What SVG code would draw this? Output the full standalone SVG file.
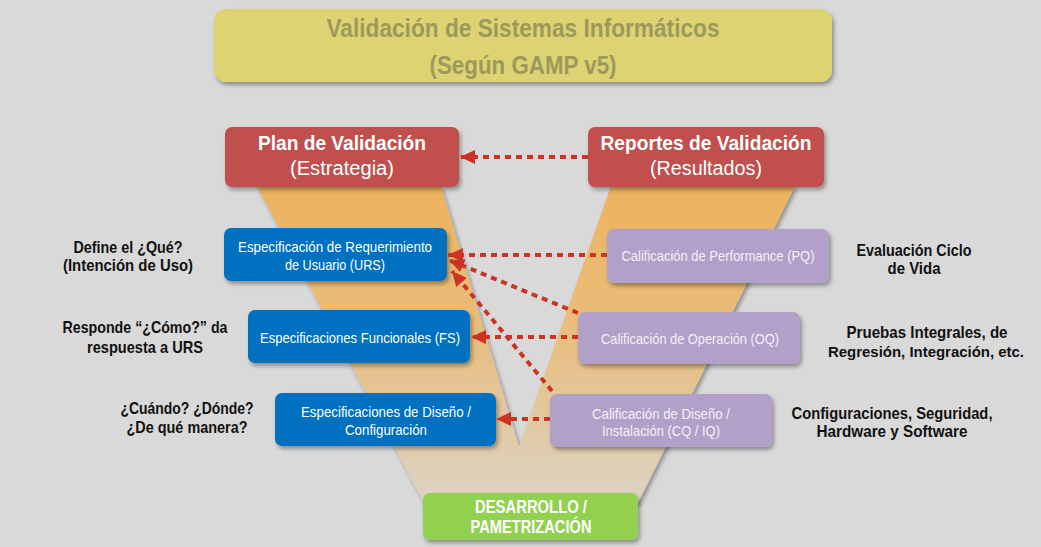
<svg xmlns="http://www.w3.org/2000/svg" width="1041" height="547" viewBox="0 0 1041 547">
  <defs>
    <linearGradient id="vgrad" gradientUnits="userSpaceOnUse" x1="0" y1="186" x2="0" y2="503">
      <stop offset="0" stop-color="#EDB35E"/>
      <stop offset="0.45" stop-color="#E9BD7C"/>
      <stop offset="1" stop-color="#DCD3C4"/>
    </linearGradient>
    <filter id="shadow" x="-10%" y="-10%" width="125%" height="140%">
      <feDropShadow dx="2" dy="3" stdDeviation="2" flood-color="#000" flood-opacity="0.35"/>
    </filter>
    <marker id="arrow" markerUnits="userSpaceOnUse" markerWidth="16" markerHeight="16" refX="15" refY="8" orient="auto">
      <path d="M0,1 L15,8 L0,15 z" fill="#CC3322"/>
    </marker>
  </defs>
  <style>
    .title { font-family: "Liberation Sans", Arial, sans-serif; font-weight: bold; font-size: 25px; fill: #9C9A5A; }
    .redt { font-family: "Liberation Sans", Arial, sans-serif; font-weight: bold; font-size: 20px; fill: #FFFFFF; }
    .redsub { font-family: "Liberation Sans", Arial, sans-serif; font-size: 20px; fill: #FFFFFF; }
    .bt { font-family: "Liberation Sans", Arial, sans-serif; font-size: 15px; fill: #FFFFFF; }
    .pt { font-family: "Liberation Sans", Arial, sans-serif; font-size: 15px; fill: #F4F0F8; }
    .side { font-family: "Liberation Sans", Arial, sans-serif; font-weight: bold; font-size: 16.5px; fill: #111111; }
    .small { font-size: 15px; }
    .gt { font-family: "Liberation Sans", Arial, sans-serif; font-weight: bold; font-size: 17.5px; fill: #FFFFFF; }
    .conn { fill: none; stroke: #CC3322; stroke-width: 4; stroke-dasharray: 6 5; }
  </style>

  <rect x="0" y="0" width="1041" height="547" fill="#D9D9D9"/>

  <!-- V shape -->
  <path id="vshape" d="M257,186 L441,186 L519,447 L611,186 L795,186 L638,503 L424,503 Z" fill="url(#vgrad)" filter="url(#shadow)"/>

  <g id="title">
    <rect x="214" y="9" width="618" height="73" rx="12" fill="#DED373" filter="url(#shadow)"/>
    <text class="title" x="523" y="37" text-anchor="middle" textLength="393" lengthAdjust="spacingAndGlyphs">Validación de Sistemas Informáticos</text>
    <text class="title" x="523" y="74" text-anchor="middle" textLength="187" lengthAdjust="spacingAndGlyphs">(Según GAMP v5)</text>
  </g>

  <g id="plan">
    <rect x="225" y="127" width="234" height="60" rx="7" fill="#C0504D" filter="url(#shadow)"/>
    <text class="redt" x="342" y="150" text-anchor="middle" textLength="168" lengthAdjust="spacingAndGlyphs">Plan de Validación</text>
    <text class="redsub" x="342" y="175" text-anchor="middle" textLength="104" lengthAdjust="spacingAndGlyphs">(Estrategia)</text>
  </g>

  <g id="reportes">
    <rect x="588" y="127" width="236" height="60" rx="7" fill="#C0504D" filter="url(#shadow)"/>
    <text class="redt" x="706" y="150" text-anchor="middle" textLength="211" lengthAdjust="spacingAndGlyphs">Reportes de Validación</text>
    <text class="redsub" x="706" y="175" text-anchor="middle" textLength="112" lengthAdjust="spacingAndGlyphs">(Resultados)</text>
  </g>

  <g id="urs">
    <rect x="224" y="228" width="223" height="53" rx="7" fill="#0070C0" filter="url(#shadow)"/>
    <text class="bt" x="335" y="251.5" text-anchor="middle" textLength="194" lengthAdjust="spacingAndGlyphs">Especificación de Requerimiento</text>
    <text class="bt" x="335" y="269.5" text-anchor="middle" textLength="100" lengthAdjust="spacingAndGlyphs">de Usuario (URS)</text>
  </g>

  <g id="fs">
    <rect x="248" y="310" width="222" height="53" rx="7" fill="#0070C0" filter="url(#shadow)"/>
    <text class="bt" x="360" y="342.5" text-anchor="middle" textLength="200" lengthAdjust="spacingAndGlyphs">Especificaciones Funcionales (FS)</text>
  </g>

  <g id="ds">
    <rect x="275" y="393" width="221" height="53" rx="7" fill="#0070C0" filter="url(#shadow)"/>
    <text class="bt" x="386" y="416.5" text-anchor="middle" textLength="170" lengthAdjust="spacingAndGlyphs">Especificaciones de Diseño /</text>
    <text class="bt" x="386" y="434.5" text-anchor="middle" textLength="82" lengthAdjust="spacingAndGlyphs">Configuración</text>
  </g>

  <g id="pq">
    <rect x="607" y="229" width="222" height="54" rx="7" fill="#B1A0C7" filter="url(#shadow)"/>
    <text class="pt" x="718" y="260.5" text-anchor="middle" textLength="193" lengthAdjust="spacingAndGlyphs">Calificación de Performance (PQ)</text>
  </g>

  <g id="oq">
    <rect x="578" y="312" width="222" height="52" rx="7" fill="#B1A0C7" filter="url(#shadow)"/>
    <text class="pt" x="690" y="343.5" text-anchor="middle" textLength="178" lengthAdjust="spacingAndGlyphs">Calificación de Operación (OQ)</text>
  </g>

  <g id="cq">
    <rect x="550" y="394" width="222" height="53" rx="7" fill="#B1A0C7" filter="url(#shadow)"/>
    <text class="pt" x="661" y="418.5" text-anchor="middle" textLength="138" lengthAdjust="spacingAndGlyphs">Calificación de Diseño /</text>
    <text class="pt" x="661" y="435.5" text-anchor="middle" textLength="118" lengthAdjust="spacingAndGlyphs">Instalación (CQ / IQ)</text>
  </g>

  <g id="desarrollo">
    <rect x="423" y="493" width="215" height="47" rx="7" fill="#92D050" filter="url(#shadow)"/>
    <text class="gt" x="531" y="513" text-anchor="middle" textLength="112" lengthAdjust="spacingAndGlyphs">DESARROLLO /</text>
    <text class="gt" x="531" y="533" text-anchor="middle" textLength="121" lengthAdjust="spacingAndGlyphs">PAMETRIZACIÓN</text>
  </g>

  <g id="side-left">
    <text class="side" x="128" y="253" text-anchor="middle" textLength="109" lengthAdjust="spacingAndGlyphs">Define el ¿Qué?</text>
    <text class="side" x="128" y="271" text-anchor="middle" textLength="130" lengthAdjust="spacingAndGlyphs">(Intención de Uso)</text>
    <text class="side" x="145" y="333" text-anchor="middle" textLength="165" lengthAdjust="spacingAndGlyphs">Responde “¿Cómo?” da</text>
    <text class="side" x="145" y="353" text-anchor="middle" textLength="116" lengthAdjust="spacingAndGlyphs">respuesta a URS</text>
    <text class="side" x="187" y="414" text-anchor="middle" textLength="133" lengthAdjust="spacingAndGlyphs">¿Cuándo? ¿Dónde?</text>
    <text class="side" x="187" y="433" text-anchor="middle" textLength="121" lengthAdjust="spacingAndGlyphs">¿De qué manera?</text>
  </g>

  <g id="side-right">
    <text class="side" x="914" y="256" text-anchor="middle" textLength="115" lengthAdjust="spacingAndGlyphs">Evaluación Ciclo</text>
    <text class="side" x="914" y="274" text-anchor="middle" textLength="53" lengthAdjust="spacingAndGlyphs">de Vida</text>
    <text class="side" x="927" y="338" text-anchor="middle" textLength="161" lengthAdjust="spacingAndGlyphs">Pruebas Integrales, de</text>
    <text class="side small" x="926" y="357" text-anchor="middle" textLength="196" lengthAdjust="spacingAndGlyphs">Regresión, Integración, etc.</text>
    <text class="side" x="892" y="419" text-anchor="middle" textLength="201" lengthAdjust="spacingAndGlyphs">Configuraciones, Seguridad,</text>
    <text class="side" x="892" y="437" text-anchor="middle" textLength="151" lengthAdjust="spacingAndGlyphs">Hardware y Software</text>
  </g>

  <g id="connectors">
    <line class="conn" x1="588" y1="157" x2="460" y2="157" marker-end="url(#arrow)"/>
    <line class="conn" x1="607" y1="255" x2="448" y2="255" marker-end="url(#arrow)"/>
    <line class="conn" x1="578" y1="313" x2="449" y2="260" marker-end="url(#arrow)"/>
    <line class="conn" x1="578" y1="337" x2="471" y2="337" marker-end="url(#arrow)"/>
    <line class="conn" x1="552" y1="391" x2="452" y2="271" marker-end="url(#arrow)"/>
    <line class="conn" x1="550" y1="419" x2="496" y2="419" marker-end="url(#arrow)"/>
  </g>
</svg>
